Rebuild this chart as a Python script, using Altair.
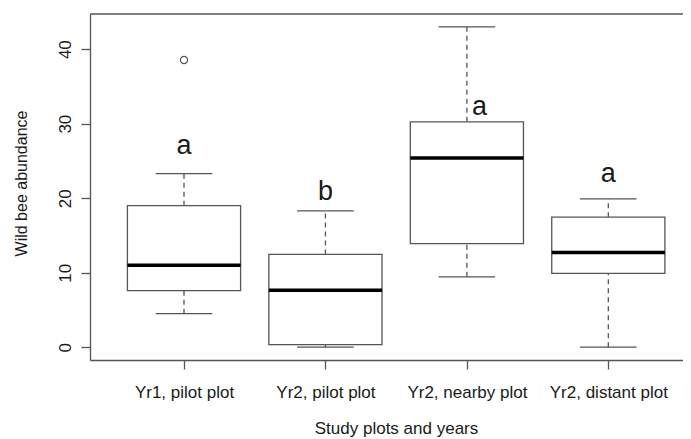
import json
import altair as alt
import pandas as pd

# ---- data ----
categories = ["Yr1, pilot plot", "Yr2, pilot plot", "Yr2, nearby plot", "Yr2, distant plot"]
positions = [1, 2, 3, 4]
lower_whisker = [4.5, 0.0, 9.45, 0.0]
q1 = [7.6, 0.35, 13.9, 9.9]
median = [11.0, 7.65, 25.4, 12.7]
q3 = [19.0, 12.45, 30.25, 17.45]
upper_whisker = [23.3, 18.3, 43.0, 19.9]
outlier_pos = [1]
outlier_val = [38.55]
letters = ["a", "b", "a", "a"]
letter_x = [1.0, 2.0, 3.09, 4.0]
letter_y = [25.9, 19.8, 31.2, 22.2]
y_ticks = [0, 10, 20, 30, 40]

X_DOMAIN = [0.3354, 4.528]
Y_DOMAIN = [-1.72, 44.72]
W, H = 593, 346
GRAY = "#555555"
FONT = "Liberation Sans"

boxes = pd.DataFrame({
    "cat": categories, "pos": positions,
    "lo": lower_whisker, "q1": q1, "med": median, "q3": q3, "hi": upper_whisker,
})
boxes["left"] = boxes["pos"] - 0.4
boxes["right"] = boxes["pos"] + 0.4
boxes["capl"] = boxes["pos"] - 0.2
boxes["capr"] = boxes["pos"] + 0.2

outs = pd.DataFrame({"pos": outlier_pos, "val": outlier_val})
labs = pd.DataFrame({"x": letter_x, "y": letter_y, "t": letters})

label_expr = json.dumps(categories) + "[datum.value - 1]"

x_axis = alt.Axis(
    values=positions, labelExpr=label_expr, title="Study plots and years",
    grid=False, tickSize=9, tickColor=GRAY, tickWidth=1.3,
    domainColor=GRAY, domainWidth=1.3,
    labelFont=FONT, labelFontSize=17, labelColor="#1a1a1a",
    labelBaseline="alphabetic", labelPadding=28,
    titleFont=FONT, titleFontSize=17, titleFontWeight="normal", titleColor="#1a1a1a",
    titleBaseline="alphabetic", titleY=73, titleX=306,
)
y_axis = alt.Axis(
    values=y_ticks, title="Wild bee abundance",
    grid=False, tickSize=9, tickColor=GRAY, tickWidth=1.3,
    domainColor=GRAY, domainWidth=1.3,
    labelFont=FONT, labelFontSize=17, labelColor="#1a1a1a",
    labelAngle=270, labelAlign="center", labelBaseline="alphabetic", labelPadding=11,
    titleFont=FONT, titleFontSize=16, titleFontWeight="normal", titleColor="#1a1a1a",
    titleAngle=270, titleAlign="center", titleBaseline="alphabetic",
    titleX=-63.5, titleY=169,
)


def xs(field):
    return alt.X(field, type="quantitative",
                 scale=alt.Scale(domain=X_DOMAIN, nice=False, zero=False), axis=x_axis)


def ys(field):
    return alt.Y(field, type="quantitative",
                 scale=alt.Scale(domain=Y_DOMAIN, nice=False, zero=False), axis=y_axis)


base = alt.Chart(boxes)

whisk_up = base.mark_rule(color=GRAY, strokeWidth=1.3, strokeDash=[5, 4]).encode(
    x=xs("pos"), y=ys("q3"), y2="hi")
whisk_lo = base.mark_rule(color=GRAY, strokeWidth=1.3, strokeDash=[5, 4]).encode(
    x=xs("pos"), y=ys("lo"), y2="q1")
cap_up = base.mark_rule(color=GRAY, strokeWidth=1.3).encode(
    x=xs("capl"), x2="capr", y=ys("hi"))
cap_lo = base.mark_rule(color=GRAY, strokeWidth=1.3).encode(
    x=xs("capl"), x2="capr", y=ys("lo"))
box = base.mark_rect(fill="white", stroke=GRAY, strokeWidth=1.3).encode(
    x=xs("left"), x2="right", y=ys("q1"), y2="q3")
med = base.mark_rule(color="black", strokeWidth=3.6).encode(
    x=xs("left"), x2="right", y=ys("med"))
outlier = alt.Chart(outs).mark_point(shape="circle", filled=False, color=GRAY,
                                     strokeWidth=1.2, size=52, opacity=1).encode(
    x=xs("pos"), y=ys("val"))
letter_text = alt.Chart(labs).mark_text(font=FONT, fontSize=27, color="#1a1a1a",
                                        baseline="alphabetic", align="center").encode(
    x=xs("x"), y=ys("y"), text="t:N")
top_border = alt.Chart(pd.DataFrame({"a": [0]})).mark_rule(color=GRAY, strokeWidth=1.3).encode(
    x=alt.value(0), x2=alt.value(W + 5), y=alt.value(0))

chart = alt.layer(
    whisk_up, whisk_lo, cap_up, cap_lo, box, med, outlier, letter_text, top_border
).properties(
    width=W, height=H,
    autosize=alt.AutoSizeParams(type="none"),
    padding={"left": 82, "top": 6, "right": 0, "bottom": 84},
    background="white",
).configure_view(stroke=None)

chart.save("out.html", embed_options={"renderer": "svg", "actions": False})
